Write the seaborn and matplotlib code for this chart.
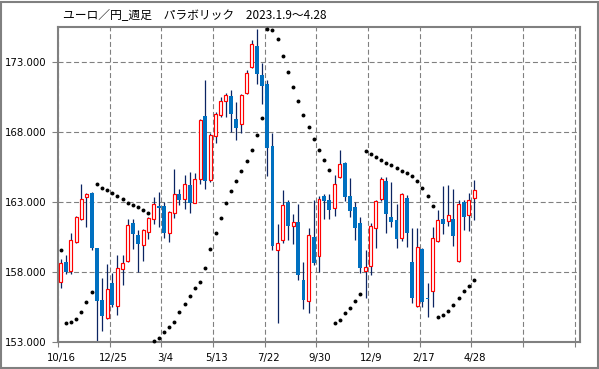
import matplotlib
matplotlib.use("Agg")
import matplotlib.pyplot as plt
import seaborn as sns
import pandas as pd
import numpy as np
from matplotlib.transforms import ScaledTranslation
from matplotlib.patches import Rectangle

# ---- data (weekly EUR/JPY candles, 10/16 .. 4/28) ----
opens = [157.26, 158.69, 158.07, 160.16, 161.76, 163.34, 163.67, 159.69, 155.98, 154.69,
         157.19, 155.60, 158.19, 158.79, 161.48, 160.62, 159.91, 160.84, 161.81, 162.69,
         162.71, 160.76, 162.19, 163.55, 163.24, 164.21, 162.95, 164.67, 169.12, 164.55,
         167.69, 169.19, 170.19, 170.55, 168.91, 168.55, 170.79, 172.62, 174.12, 172.05,
         171.41, 167.00, 159.55, 160.26, 163.00, 161.26, 161.57, 157.41, 155.91, 160.50,
         159.12, 163.43, 163.12, 162.57, 164.81, 165.76, 163.43, 162.62, 161.48, 158.09,
         158.45, 161.17, 163.19, 164.52, 161.91, 161.71, 160.45, 163.29, 158.74, 155.59,
         159.62, 156.17, 156.66, 160.24, 161.76, 161.66, 161.79, 158.81, 163.02, 162.07,
         163.26]
highs = [158.90, 159.20, 160.76, 162.00, 164.26, 163.62, 163.75, 159.75, 157.59, 158.55,
         157.91, 159.21, 159.21, 161.76, 161.79, 161.00, 161.05, 161.90, 163.38, 163.69,
         163.02, 162.36, 165.34, 163.91, 164.93, 165.12, 165.10, 168.95, 171.74, 167.95,
         169.43, 170.50, 170.79, 170.98, 170.14, 170.70, 172.45, 174.55, 175.38, 172.93,
         171.69, 167.93, 161.45, 163.84, 163.17, 162.12, 162.84, 158.71, 161.14, 163.12,
         163.43, 163.60, 163.60, 164.95, 166.71, 165.88, 164.69, 163.02, 161.95, 159.57,
         161.48, 163.15, 164.81, 164.76, 164.45, 162.84, 163.62, 163.50, 161.12, 161.12,
         159.70, 157.24, 161.19, 162.43, 164.14, 164.21, 163.91, 163.14, 163.14, 163.66,
         164.57]
lows = [156.84, 157.84, 157.84, 160.10, 161.70, 161.24, 159.60, 153.07, 153.79, 154.65,
        155.52, 154.93, 157.10, 158.70, 159.62, 158.02, 158.81, 160.34, 161.41, 161.20,
        160.45, 160.12, 161.88, 162.79, 162.50, 162.19, 162.90, 164.31, 163.95, 164.45,
        167.24, 169.10, 169.07, 168.00, 167.45, 167.93, 170.70, 172.55, 171.45, 169.98,
        164.84, 159.59, 154.33, 160.07, 160.31, 159.98, 157.41, 155.38, 155.09, 158.48,
        158.00, 161.81, 161.76, 161.98, 164.69, 163.07, 161.95, 160.29, 157.95, 156.12,
        157.79, 159.74, 163.10, 160.81, 161.19, 159.69, 160.21, 159.76, 155.76, 155.52,
        155.52, 154.81, 155.52, 160.15, 160.71, 161.29, 159.86, 158.75, 160.98, 160.93,
        161.71]
closes = [158.62, 158.02, 160.26, 161.91, 163.21, 163.55, 159.69, 155.93, 154.88, 156.81,
          155.62, 158.26, 158.62, 161.36, 160.69, 160.02, 161.00, 161.84, 162.84, 162.57,
          160.76, 162.29, 163.55, 163.14, 164.26, 162.95, 164.67, 168.88, 164.50, 167.81,
          169.26, 170.19, 170.62, 169.26, 168.31, 170.62, 172.24, 174.26, 172.12, 171.29,
          166.88, 159.86, 160.07, 162.76, 161.29, 161.55, 157.81, 156.02, 160.62, 158.66,
          163.24, 163.05, 162.41, 164.31, 165.71, 163.38, 162.36, 161.17, 158.31, 158.34,
          161.29, 163.07, 164.62, 162.12, 161.59, 160.36, 163.55, 160.81, 156.17, 159.76,
          155.88, 156.05, 160.41, 161.71, 161.43, 162.07, 160.57, 162.86, 161.95, 163.14,
          163.86]
sar = [159.57, 154.36, 154.40, 154.62, 155.12, 155.83, 156.55, 164.26, 164.02, 163.86,
       163.67, 163.43, 163.21, 162.95, 162.76, 162.62, 162.43, 162.24, 153.07, 153.26,
       153.69, 154.05, 154.45, 155.12, 155.69, 156.26, 156.84, 157.31, 158.29, 159.62,
       160.81, 161.88, 162.93, 163.76, 164.52, 165.24, 165.91, 166.69, 167.76, 169.00,
       175.38, 175.26, 174.62, 173.41, 172.29, 171.19, 170.19, 169.19, 168.36, 167.48,
       166.69, 165.98, 165.26, 154.33, 154.55, 155.05, 155.45, 155.95, 156.43, 166.67,
       166.43, 166.24, 166.00, 165.81, 165.62, 165.45, 165.24, 165.09, 164.88, 164.52,
       163.98, 163.45, 162.75, 154.81, 154.93, 155.24, 155.62, 156.12, 156.66, 157.02,
       157.45]
x_tick_labels = ["10/16", "12/25", "3/4", "5/13", "7/22", "9/30", "12/9", "2/17", "4/28", "", ""]
y_ticks = [153, 158, 163, 168, 173]
title = "ユーロ／円_週足　パラボリック　2023.1.9～4.28"

# ---- style ----
sns.set_theme(style="white")
plt.rcParams["font.family"] = ["DejaVu Sans"]

n = len(opens)
df = pd.DataFrame({"x": np.arange(n) + 0.5, "open": opens, "high": highs,
                   "low": lows, "close": closes, "sar": sar})
up = df["close"] >= df["open"]
dn = ~up

fig = plt.figure(figsize=(5.99, 3.69), dpi=100)
fig.patch.set_facecolor("white")
ax = fig.add_axes([58 / 599, 1 - 342 / 369, (580 - 58) / 599, (342 - 27) / 369])
ax.set_facecolor("white")

wick_color = "#0b2462"
ax.vlines(df["x"], df["low"], df["high"], color=wick_color, lw=0.9, zorder=2)
ax.bar(df["x"][up], (df["close"] - df["open"])[up], bottom=df["open"][up], width=0.58,
       facecolor="white", edgecolor="#ff0000", linewidth=0.85, zorder=3)
ax.bar(df["x"][dn], (df["open"] - df["close"])[dn], bottom=df["close"][dn], width=0.76,
       color="#0070c0", linewidth=0, zorder=3)
sns.scatterplot(data=df, x="x", y="sar", color="black", s=8, linewidth=0,
                ax=ax, zorder=4, legend=False, clip_on=False)

ax.set_xlim(0, 101)
ax.set_ylim(153, 175.5)
ax.set_xticks(np.arange(0, 101, 10))
ax.set_xticklabels(x_tick_labels)
ax.set_yticks(y_ticks)
ax.set_yticklabels([f"{v:.3f}" for v in y_ticks])
ax.set_xlabel("")
ax.set_ylabel("")

ax.grid(True, color="#808080", linestyle=(0, (4.5, 2.5)), lw=0.8)
ax.set_axisbelow(True)
for s in ax.spines.values():
    s.set_visible(True)
    s.set_color("#808080")
    s.set_linewidth(1.5)

ax.tick_params(axis="both", which="both", bottom=True, left=True, direction="out",
               width=0.8, color="#808080", labelsize=7.3, labelcolor="black")
ax.tick_params(axis="y", length=4.3, pad=4.3)
ax.tick_params(axis="x", length=3.6, pad=4.5)
for lab in ax.get_xticklabels():
    lab.set_transform(lab.get_transform() + ScaledTranslation(3.5 / 100, 0, fig.dpi_scale_trans))

fig.text(63 / 599, 1 - 14.5 / 369, title, fontsize=8.5, ha="left", va="center",
         family=["Noto Sans CJK JP", "DejaVu Sans"], color="black")

fig.patches.append(Rectangle((1 / 599, 1 / 369), 596.5 / 599, 366.5 / 369,
                             transform=fig.transFigure, fill=False,
                             edgecolor="#808080", linewidth=1.5))

fig.savefig("out.png", dpi=100, facecolor="white")
